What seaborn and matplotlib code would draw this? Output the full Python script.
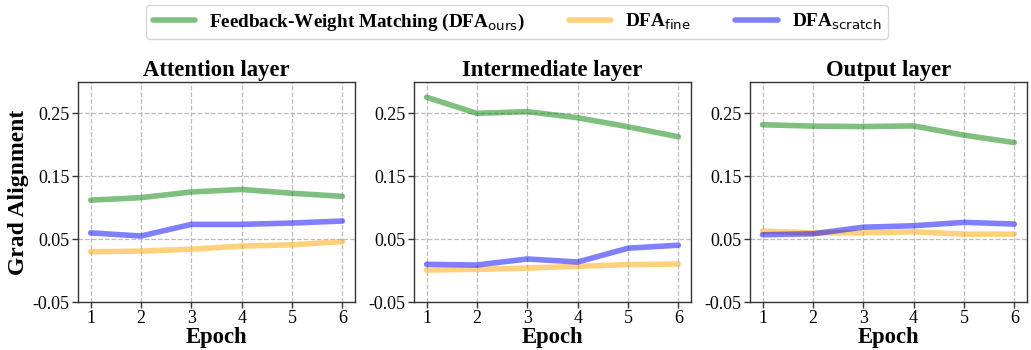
import matplotlib
matplotlib.use("Agg")
import matplotlib.pyplot as plt
import seaborn as sns
import pandas as pd
import numpy as np

epochs = [1, 2, 3, 4, 5, 6]
panels = ["Attention layer", "Intermediate layer", "Output layer"]
series_names = ["Feedback-Weight Matching (DFA$_{\\mathrm{ours}}$)",
                "DFA$_{\\mathrm{fine}}$",
                "DFA$_{\\mathrm{scratch}}$"]

attn_ours = [0.112, 0.116, 0.125, 0.129, 0.123, 0.118]
attn_fine = [0.030, 0.031, 0.034, 0.039, 0.041, 0.046]
attn_scratch = [0.060, 0.055, 0.0735, 0.0735, 0.0756, 0.0788]

inter_ours = [0.2756, 0.250, 0.2527, 0.243, 0.2287, 0.2127]
inter_fine = [0.0009, 0.002, 0.004, 0.0068, 0.0095, 0.0105]
inter_scratch = [0.010, 0.0089, 0.0185, 0.0137, 0.0356, 0.0404]

out_ours = [0.2319, 0.2297, 0.229, 0.230, 0.2153, 0.2036]
out_fine = [0.0628, 0.060, 0.060, 0.0617, 0.058, 0.058]
out_scratch = [0.057, 0.0585, 0.069, 0.0713, 0.0767, 0.074]

yticks = [-0.05, 0.05, 0.15, 0.25]
ytick_labels = ["-0.05", "0.05", "0.15", "0.25"]

colors = ["green", "orange", "blue"]

data = {
    panels[0]: [attn_ours, attn_fine, attn_scratch],
    panels[1]: [inter_ours, inter_fine, inter_scratch],
    panels[2]: [out_ours, out_fine, out_scratch],
}

sns.set_style("whitegrid")
plt.rcParams["font.family"] = ["Liberation Serif", "DejaVu Serif"]
plt.rcParams["mathtext.fontset"] = "dejavusans"
plt.rcParams["text.color"] = "black"

fig, axes = plt.subplots(1, 3, figsize=(10.31, 3.5), dpi=100)
fig.subplots_adjust(left=0.0757, right=0.996, bottom=0.137, top=0.766, wspace=0.213)

for ax, panel in zip(axes, panels):
    for name, vals, c in zip(series_names, data[panel], colors):
        df = pd.DataFrame({"Epoch": epochs, "val": vals})
        sns.lineplot(data=df, x="Epoch", y="val", ax=ax, color=c, alpha=0.5,
                     linewidth=4, label=name, legend=False)
    ax.set_title(panel, fontsize=16.3, fontweight="bold", pad=4, color="black")
    ax.set_xlabel("Epoch", fontsize=16.3, fontweight="bold", labelpad=0, color="black")
    ax.set_ylabel("")
    ax.set_ylim(-0.05, 0.30)
    ax.set_xticks(epochs)
    ax.set_yticks(yticks)
    ax.set_yticklabels(ytick_labels)
    ax.tick_params(axis="both", labelsize=13, length=4, width=1, color="#333333",
                   labelcolor="black", direction="out", bottom=True, left=True, pad=2)
    ax.grid(True, linestyle="--", color="#bbbbbb", linewidth=0.9)
    for sp in ax.spines.values():
        sp.set_color("#333333")
        sp.set_linewidth(1.0)

axes[0].set_ylabel("Grad Alignment", fontsize=17, fontweight="bold", labelpad=3, color="black")

handles, labels = axes[0].get_legend_handles_labels()
fig.legend(handles, labels, loc="center", bbox_to_anchor=(0.5015, 0.937), ncol=3,
           frameon=True, prop={"weight": "bold", "size": 13.8}, handlelength=2.2,
           handletextpad=0.75, columnspacing=2.3, edgecolor="#cccccc", fancybox=True,
           borderpad=0.35)

fig.savefig("out.png", dpi=100)
